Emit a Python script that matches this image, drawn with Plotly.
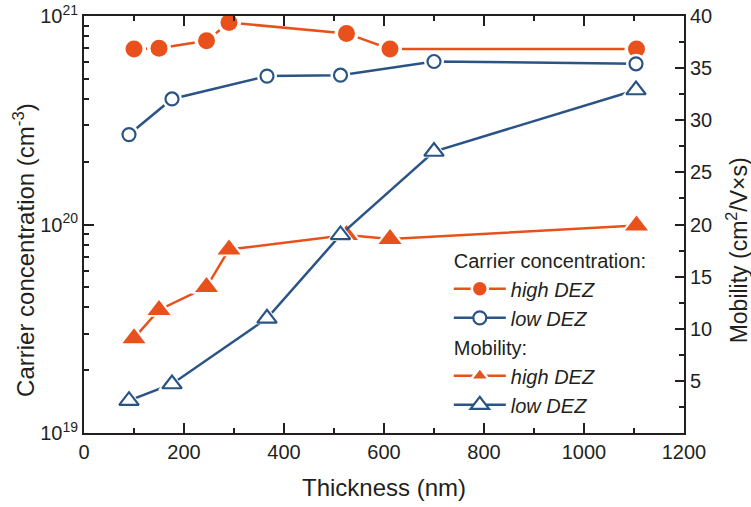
import plotly.graph_objects as go

# Film thickness (nm) for each deposition condition
thk_high = [100, 150, 245, 290, 525, 612, 1105]
thk_low = [90, 176, 366, 513, 700, 1104]

# Carrier concentration (cm^-3)
conc_high = [6.95e20, 7.0e20, 7.6e20, 9.3e20, 8.25e20, 6.95e20, 6.95e20]
conc_low = [2.7e20, 4.0e20, 5.15e20, 5.2e20, 6.05e20, 5.9e20]

# Hall mobility (cm^2/V·s)
mob_high = [9.1, 11.8, 14.0, 17.6, 19.0, 18.6, 19.9]
mob_low = [3.1, 4.7, 11.0, 19.0, 27.0, 32.9]

# Axis tick labels
x_ticks = [0, 200, 400, 600, 800, 1000, 1200]
conc_ticks = [1e19, 1e20, 1e21]
conc_ticktext = ["10<sup>19</sup>", "10<sup>20</sup>", "10<sup>21</sup>"]
mob_ticks = [5, 10, 15, 20, 25, 30, 35, 40]

ORANGE = "#E8511C"
BLUE = "#2B5486"
INK = "#231F20"
FONT = "Liberation Sans, Arial, sans-serif"

fig = go.Figure()


def add_series(x, y, yaxis, color, symbol, size, filled):
    # connecting line
    fig.add_trace(go.Scatter(x=x, y=y, yaxis=yaxis, mode="lines",
                             line=dict(color=color, width=2.5),
                             showlegend=False, hoverinfo="skip"))
    # white halo leaves a small gap between the line and each marker
    fig.add_trace(go.Scatter(x=x, y=y, yaxis=yaxis, mode="markers",
                             marker=dict(symbol=symbol, size=size + 7, color="white",
                                         line=dict(width=0)),
                             showlegend=False, hoverinfo="skip"))
    fig.add_trace(go.Scatter(x=x, y=y, yaxis=yaxis, mode="markers",
                             marker=dict(symbol=symbol, size=size,
                                         color=color if filled else "white",
                                         line=dict(color=color, width=0 if filled else 2.2)),
                             showlegend=False))


add_series(thk_high, conc_high, "y", ORANGE, "circle", 17, True)
add_series(thk_low, conc_low, "y", BLUE, "circle", 13, False)
add_series(thk_high, mob_high, "y2", ORANGE, "triangle-up", 20, True)
add_series(thk_low, mob_low, "y2", BLUE, "triangle-up", 17, False)


def legend_entry(name, group, title, color, symbol, size, filled):
    fig.add_trace(go.Scatter(
        x=[None], y=[None], mode="lines+markers", name=name,
        legendgroup=group,
        legendgrouptitle=dict(text=title) if title else None,
        line=dict(color=color, width=2.5),
        marker=dict(symbol=symbol, size=size,
                    color=color if filled else "white",
                    line=dict(color="white" if filled else color,
                              width=2.5 if filled else 2.2)),
    ))


legend_entry("high DEZ", "cc", "Carrier concentration:", ORANGE, "circle", 17, True)
legend_entry("low DEZ", "cc", None, BLUE, "circle", 13, False)
legend_entry("high DEZ", "mob", "Mobility:", ORANGE, "triangle-up", 21, True)
legend_entry("low DEZ", "mob", None, BLUE, "triangle-up", 17, False)

axis_common = dict(showline=True, linecolor=INK, linewidth=2, showgrid=False,
                   zeroline=False, ticks="inside", tickcolor=INK, tickwidth=1.5,
                   automargin=False,
                   tickfont=dict(family=FONT, size=20, color=INK))

minor_conc = [k * 10.0 ** e for e in (19, 20) for k in range(2, 10)]
title_font = dict(family=FONT, size=24, color=INK)

fig.update_layout(
    width=751, height=507,
    margin=dict(l=84, r=67, t=16, b=74),
    paper_bgcolor="white", plot_bgcolor="white",
    font=dict(family=FONT, color=INK),
    xaxis=dict(**axis_common, range=[0, 1200], tickvals=x_ticks, ticklen=10,
               mirror="ticks",
               minor=dict(dtick=100, ticks="inside", ticklen=5, tickcolor=INK, tickwidth=1.5),
               title=dict(text="Thickness (nm)", font=title_font, standoff=17)),
    yaxis=dict(**axis_common, type="log", range=[19, 21], tickvals=conc_ticks,
               ticktext=conc_ticktext, ticklen=10,
               minor=dict(tickvals=minor_conc,
                          ticks="inside", ticklen=5, tickcolor=INK, tickwidth=1.5)),
    yaxis2=dict(**axis_common, overlaying="y", side="right", range=[0, 40],
                tickvals=mob_ticks, ticklen=9,
                minor=dict(tickvals=[2.5, 7.5, 12.5, 17.5, 22.5, 27.5, 32.5, 37.5],
                           ticks="inside", ticklen=5, tickcolor=INK, tickwidth=1.5)),
    legend=dict(x=0.608, y=0.462, xanchor="left", yanchor="top",
                bgcolor="rgba(0,0,0,0)", traceorder="grouped", tracegroupgap=0,
                font=dict(family=FONT, size=20, color=INK, style="italic"),
                grouptitlefont=dict(family=FONT, size=20, color=INK, style="normal"),
                itemwidth=52),
    annotations=[
        dict(text="Carrier concentration (cm<sup>-3</sup>)", textangle=-90,
             xref="paper", yref="paper", x=-0.1, y=0.439,
             xanchor="center", yanchor="middle", showarrow=False,
             font=dict(family=FONT, size=24, color=INK)),
        dict(text="Mobility (cm<sup>2</sup>/V×s)", textangle=-90,
             xref="paper", yref="paper", x=1.089, y=0.439,
             xanchor="center", yanchor="middle", showarrow=False,
             font=dict(family=FONT, size=23, color=INK)),
    ],
)

fig.write_html("out.html")
